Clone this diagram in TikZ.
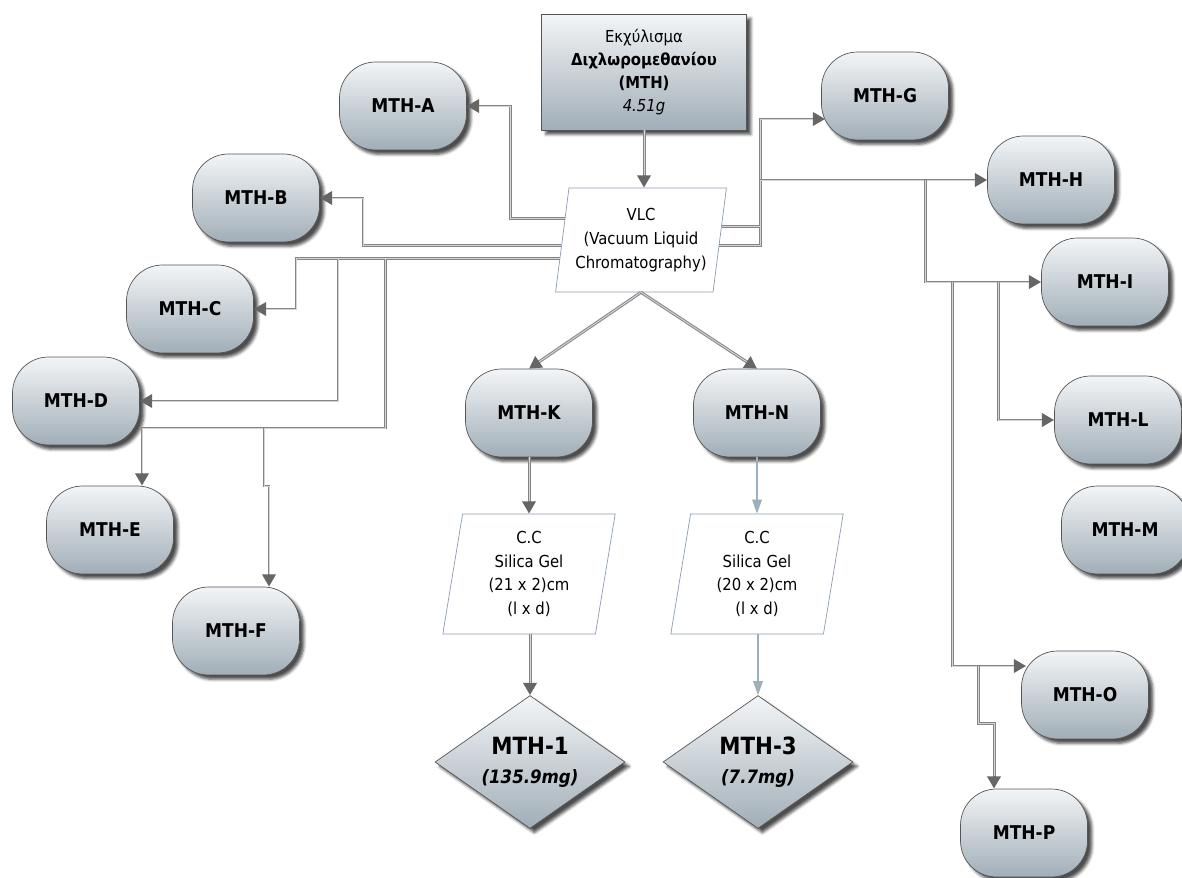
\documentclass[tikz,border=0pt]{standalone}
\usepackage{fontspec}
\setmainfont{DejaVu Sans Condensed}
\usepackage{xcolor}
\definecolor{MTHlight}{HTML}{F3F5F7}
\definecolor{MTHdark}{HTML}{A1AEB7}
\definecolor{MTHedge}{HTML}{555555}
\definecolor{MTHpipe}{HTML}{858585}
\definecolor{MTHcore}{HTML}{D4D4D4}
\definecolor{MTHtip}{HTML}{666666}
\definecolor{MTHslate}{HTML}{9DAFBB}
\definecolor{MTHframe}{HTML}{8A9DB0}
\usetikzlibrary{calc, arrows.meta, shapes.geometric, shadows.blur, positioning}

\begin{document}
\begin{tikzpicture}[x=0.02cm, y=-0.02cm]
% ============================================================
%  VLC fractionation of the dichloromethane extract (MTH)
% ============================================================

\tikzset{
  shade/.style={draw=MTHedge, thin, top color=MTHlight, bottom color=MTHdark,
    blur shadow={shadow xshift=2.5pt, shadow yshift=-2.5pt,
      shadow blur radius=1.6pt, shadow opacity=70}},
  fraction/.style={shade, rectangle, rounded corners=0.72cm,
    minimum width=2.54cm, minimum height=1.76cm,
    font=\fontsize{10.8}{13}\selectfont\bfseries},
  extract/.style={shade, rectangle, minimum width=4.1cm, minimum height=2.32cm,
    align=center, font=\fontsize{9.4}{13}\selectfont},
  column/.style={trapezium, trapezium stretches=true,
    trapezium left angle=82, trapezium right angle=98,
    minimum width=3.46cm, minimum height=2.4cm,
    draw=MTHframe, thin, fill=white, align=center,
    font=\fontsize{9.4}{13.6}\selectfont},
  product/.style={shade, diamond, aspect=1.43, inner sep=0pt,
    minimum width=3.8cm, minimum height=2.66cm, align=center,
    font=\fontsize{10.5}{16.4}\selectfont\bfseries},
  duct/.style={draw=MTHpipe, line width=1.7pt,
    postaction={draw=MTHcore, line width=0.55pt, -}},
  pipe/.style={draw=MTHpipe, line width=1.7pt,
    -{Triangle[length=7pt, width=7.5pt, color=MTHtip]},
    postaction={draw=MTHcore, line width=0.55pt, -, shorten >=7pt}},
  lite/.style={draw=MTHslate, line width=0.7pt,
    -{Triangle[length=8pt, width=5.5pt, color=MTHslate]}},
}

  \useasboundingbox (0,0) rectangle (1182,878);

  % ── Extract and VLC step ──────────────────────────────────
  \node[extract] (extract) at (644,72)
    {Εκχύλισμα\\{\bfseries Διχλωρομεθανίου}\\{\bfseries (MTH)}\\{\itshape 4.51g}};
  \node[column, trapezium left angle=80, trapezium right angle=100,
    minimum width=3.44cm, minimum height=2.08cm] (vlc) at (641,240)
    {VLC\\(Vacuum Liquid\\Chromatography)};

  % ── Fractions ─────────────────────────────────────────────
  \foreach \id/\x/\y in {A/403/106, B/256/198, C/190/309, D/76/401,
      E/110/530, F/236/631, G/885/96, H/1051/180, I/1105/282,
      L/1118/420, M/1125/530, O/1085/695, P/1024/833,
      K/529/413, N/757/413}{
    \node[fraction] (mth\id) at (\x,\y) {MTH-\id};
  }

  % ── Column chromatography and products ────────────────────
  \node[column] (cc1) at (529,574) {C.C\\Silica Gel\\(21 x 2)cm\\(l x d)};
  \node[column] (cc2) at (757,574) {C.C\\Silica Gel\\(20 x 2)cm\\(l x d)};

  \node[product] (mth1) at (530,762)
    {{\fontsize{13.5}{16.4}\selectfont MTH-1}\\{\itshape (135.9mg)}};
  \node[product] (mth3) at (758,762)
    {{\fontsize{13.5}{16.4}\selectfont MTH-3}\\{\itshape (7.7mg)}};

  % ── Outlets on the VLC sides ──────────────────────────────
  \coordinate (outA) at ($(vlc.top left corner)!0.29!(vlc.bottom left corner)$);
  \coordinate (outB) at ($(vlc.top left corner)!0.55!(vlc.bottom left corner)$);
  \coordinate (outT) at ($(vlc.top left corner)!0.68!(vlc.bottom left corner)$);
  \coordinate (outG) at ($(vlc.top right corner)!0.375!(vlc.bottom right corner)$);
  \coordinate (outH) at ($(vlc.top right corner)!0.55!(vlc.bottom right corner)$);
  \coordinate (vlcFoot) at (vlc.center |- vlc.south);
  % where the arrows meet the rounded corners of G and O
  \coordinate (inG) at ($(mthG.west |- 0,119)+(4,0)$);
  \coordinate (inO) at ($(mthO.west |- 0,666)+(5,0)$);

  % main line
  \draw[pipe] (extract) -- (extract |- vlc.north);
  \draw[pipe] (vlcFoot) -- (mthK.north);
  \draw[pipe] (vlcFoot) -- (mthN.north);
  \draw[pipe] (mthK.south) -- (mthK.south |- cc1.north);
  \draw[pipe] (cc1.south -| mth1.north) -- (mth1.north);
  \draw[lite] (mthN.south) -- (mthN.south |- cc2.north);
  \draw[lite] (cc2.south -| mth3.north) -- (mth3.north);

  % left side: A to F
  \draw[pipe] (outA) -| (510,106) -- (mthA.east);
  \draw[pipe] (outB) -| (363,198) -- (mthB.east);
  \draw[pipe] (outT) -| (296,309) -- (mthC.east);
  \draw[pipe] (outT -| 338,0) |- (mthD.east);
  \draw[pipe] (outT -| 385,0) |- (142,428) -- (mthE.north -| 142,0);
  \coordinate (forkF) at (264,428);
  \draw[pipe] (forkF) -- (264,486) -| (mthF.north -| 269,0);

  % right side: G to P
  \draw[pipe] (outH) -| (760,119) -- (inG);
  \draw[duct] (outG) -- (outG -| 760,0);
  \coordinate (hubH) at (760,180);
  \draw[pipe] (hubH) -- (mthH.west);
  \coordinate (hubI) at (925,180);
  \draw[pipe] (hubI) |- (mthI.west);
  \coordinate (hubL) at (998,282);
  \draw[pipe] (hubL) |- (mthL.west);
  \coordinate (hubO) at (952,282);
  \draw[pipe] (hubO) |- (inO);
  \coordinate (forkP) at (978,666);
  \draw[pipe] (forkP) |- (994,723) -- (mthP.north -| 994,0);

\end{tikzpicture}
\end{document}
